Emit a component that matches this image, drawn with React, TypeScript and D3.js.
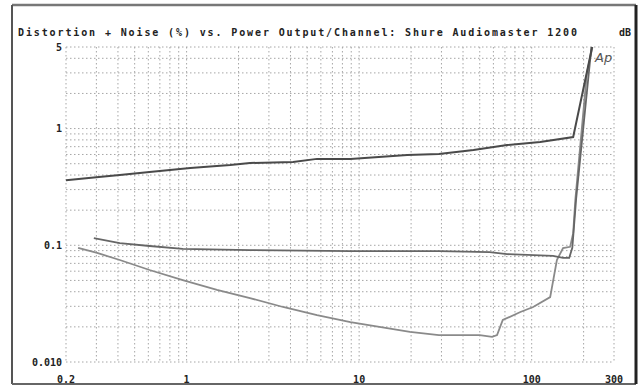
import React from "react";
import * as d3 from "d3";

// Output power per channel (W) and THD+N (%) for each trace
const powerA = [0.2, 0.31, 0.41, 0.61, 1.05, 1.79, 2.33, 4.14, 5.7, 8.9, 19, 29, 46, 72, 112, 174, 218, 224];
const thdA = [0.36, 0.385, 0.4, 0.425, 0.46, 0.487, 0.507, 0.517, 0.55, 0.55, 0.594, 0.605, 0.655, 0.723, 0.767, 0.847, 4.1, 5];

const powerB = [0.29, 0.41, 0.61, 0.95, 2.33, 8.9, 29, 57, 72, 133, 152, 165, 172, 181, 222];
const thdB = [0.115, 0.1045, 0.0986, 0.093, 0.091, 0.089, 0.089, 0.0875, 0.084, 0.081, 0.078, 0.078, 0.095, 0.25, 5];

const powerC = [0.235, 0.303, 0.41, 0.61, 0.95, 1.5, 2.33, 3.62, 5.7, 8.9, 19.7, 29, 50, 59, 63, 68, 86, 102, 128, 140, 152, 167, 174, 179, 209, 225];
const thdC = [0.0948, 0.086, 0.0748, 0.0614, 0.0504, 0.0414, 0.0353, 0.0296, 0.0252, 0.022, 0.0181, 0.017, 0.017, 0.0164, 0.017, 0.0229, 0.0268, 0.0296, 0.036, 0.0748, 0.0948, 0.097, 0.127, 0.244, 3.0, 5];

const xTicks = [0.2, 1, 10, 100, 300];
const xTickLabels = ["0.2", "1", "10", "100", "300"];
const yTicks = [5, 1, 0.1, 0.01];
const yTickLabels = ["5", "1", "0.1", "0.010"];

const title = "Distortion + Noise (%) vs. Power Output/Channel: Shure Audiomaster 1200";

const W = 643;
const H = 389;
const left = 66, right = 614, top = 47, bottom = 362;

const x = d3.scaleLog().domain([0.2, 300]).range([left, right]);
const y = d3.scaleLog().domain([0.01, 5]).range([bottom, top]);

// log grid values: every 1..9 step in each decade inside the domain
function logGrid(lo: number, hi: number): number[] {
  const out: number[] = [];
  for (let e = -3; e <= 3; e++) {
    for (let m = 1; m <= 9; m++) {
      const v = m * Math.pow(10, e);
      if (v >= lo * 0.9999 && v <= hi * 1.0001) out.push(v);
    }
  }
  return out;
}

const xGrid = logGrid(0.2, 300);
const yGrid = logGrid(0.01, 5);

const line = d3
  .line<[number, number]>()
  .x((d) => x(d[0]))
  .y((d) => y(d[1]));

const zip = (a: number[], b: number[]) => a.map((v, i) => [v, b[i]] as [number, number]);

const mono = "'DejaVu Sans Mono', 'Liberation Mono', monospace";

export default function App() {
  return (
    <svg
      width={W}
      height={H}
      viewBox={`0 0 ${W} ${H}`}
      style={{ position: "absolute", left: 0, top: 0, background: "#fff" }}
    >
      <rect x={0} y={0} width={W} height={H} fill="#fff" />
      {/* outer frame */}
      <line x1={12} y1={5} x2={636} y2={5} stroke="#777" strokeWidth={2.5} />
      <line x1={12} y1={5} x2={12} y2={384} stroke="#555" strokeWidth={2} />
      <line x1={12} y1={384} x2={636} y2={384} stroke="#666" strokeWidth={2} />
      <line x1={636} y1={5} x2={636} y2={384} stroke="#222" strokeWidth={3} />

      {/* title */}
      <text
        x={18}
        y={36}
        fontFamily={mono}
        fontWeight="bold"
        fontSize={10}
        textLength={559}
        lengthAdjust="spacing"
        fill="#222"
      >
        {title}
      </text>
      <text x={619} y={36} fontFamily={mono} fontWeight="bold" fontSize={10} fill="#222">
        dB
      </text>

      {/* grid */}
      <g stroke="#a6a6a6" strokeWidth={1} strokeDasharray="1.5,2.5">
        {xGrid.map((v) => (
          <line key={"gx" + v} x1={x(v)} x2={x(v)} y1={top} y2={bottom} />
        ))}
        {yGrid.map((v) => (
          <line key={"gy" + v} x1={left} x2={right} y1={y(v)} y2={y(v)} />
        ))}
      </g>

      {/* y tick labels */}
      {yTicks.map((v, i) => (
        <text
          key={"yt" + v}
          x={62}
          y={y(v)}
          dy="0.35em"
          textAnchor="end"
          fontFamily={mono}
          fontWeight="bold"
          fontSize={10}
          fill="#222"
        >
          {yTickLabels[i]}
        </text>
      ))}

      {/* x tick labels */}
      {xTicks.map((v, i) => (
        <text
          key={"xt" + v}
          x={x(v)}
          y={379}
          dy="0.35em"
          textAnchor="middle"
          fontFamily={mono}
          fontWeight="bold"
          fontSize={10}
          fill="#222"
        >
          {xTickLabels[i]}
        </text>
      ))}

      {/* traces */}
      <path d={line(zip(powerC, thdC)) || ""} fill="none" stroke="#8a8a8a" strokeWidth={1.8} />
      <path d={line(zip(powerB, thdB)) || ""} fill="none" stroke="#666" strokeWidth={1.8} />
      <path d={line(zip(powerA, thdA)) || ""} fill="none" stroke="#4a4a4a" strokeWidth={2} />

      {/* Audio Precision mark */}
      <text x={595} y={62} fontFamily="'DejaVu Sans', sans-serif" fontStyle="italic" fontSize={13} fill="#555">
        Ap
      </text>
    </svg>
  );
}
